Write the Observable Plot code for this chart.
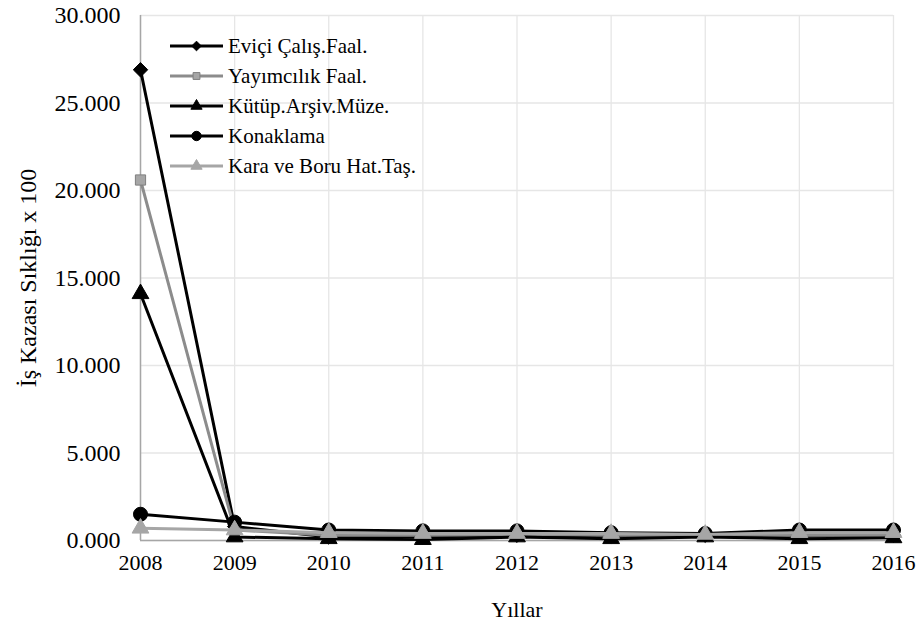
<!DOCTYPE html>
<html>
<head>
<meta charset="utf-8">
<script src="https://cdn.jsdelivr.net/npm/d3@7"></script>
<script src="https://cdn.jsdelivr.net/npm/@observablehq/plot@0.6"></script>
</head>
<body style="margin:0;background:#fff">
<div id="wrap" style="position:relative;width:921px;height:627px"><div id="legend" style="position:absolute;left:170px;top:31px;color:#000"></div></div>
<script>
const years = [2008, 2009, 2010, 2011, 2012, 2013, 2014, 2015, 2016];
const seriesNames = ["Eviçi Çalış.Faal.", "Yayımcılık Faal.", "Kütüp.Arşiv.Müze.", "Konaklama", "Kara ve Boru Hat.Taş."];
const evici = [26.9, 0.8, 0.2, 0.2, 0.3, 0.25, 0.3, 0.25, 0.3];
const yayimcilik = [20.6, 0.6, 0.3, 0.3, 0.35, 0.3, 0.3, 0.3, 0.3];
const kutup = [14.1, 0.2, 0.1, 0.05, 0.2, 0.1, 0.2, 0.1, 0.15];
const konaklama = [1.5, 1.05, 0.6, 0.55, 0.55, 0.45, 0.4, 0.6, 0.6];
const kara = [0.7, 0.6, 0.45, 0.4, 0.4, 0.4, 0.35, 0.45, 0.45];
const yTicks = [0, 5, 10, 15, 20, 25, 30];

const serif = '"Liberation Serif"';
const styles = [
  {line: "#000000", fill: "#000000", stroke: "#000000", symbol: "diamond2", r: 6.5},
  {line: "#8c8c8c", fill: "#a6a6a6", stroke: "#7f7f7f", symbol: "square2", r: 6.5},
  {line: "#000000", fill: "#000000", stroke: "#000000", symbol: "triangle2", r: 8},
  {line: "#000000", fill: "#000000", stroke: "#000000", symbol: "circle", r: 7},
  {line: "#a6a6a6", fill: "#a6a6a6", stroke: "#a6a6a6", symbol: "triangle2", r: 8}
];
const valuesList = [evici, yayimcilik, kutup, konaklama, kara];

const data = [];
seriesNames.forEach((s, i) => years.forEach((y, j) => data.push({series: s, idx: i, year: y, value: valuesList[i][j]})));

const marks = [
  Plot.gridX(years, {stroke: "#e6e6e6", strokeOpacity: 1, strokeWidth: 1.3}),
  Plot.gridY(yTicks, {stroke: "#e6e6e6", strokeOpacity: 1, strokeWidth: 1.3}),
  Plot.ruleX([2008], {stroke: "#a6a6a6", strokeWidth: 1.5}),
  Plot.ruleY([0], {stroke: "#a6a6a6", strokeWidth: 1.5})
];
seriesNames.forEach((s, i) => {
  const d = data.filter(r => r.idx === i);
  const st = styles[i];
  marks.push(Plot.line(d, {x: "year", y: "value", stroke: st.line, strokeWidth: 3}));
  marks.push(Plot.dot(d, {x: "year", y: "value", symbol: () => st.symbol, r: st.r, fill: st.fill, stroke: st.stroke, strokeWidth: 1}));
});
marks.push(Plot.axisX(years, {tickSize: 0, tickPadding: 14, tickFormat: d => String(d), fontSize: 22, fontFamily: "Liberation Serif", label: "Yıllar", labelAnchor: "center", labelOffset: 76, labelArrow: "none"}));
marks.push(Plot.axisY(yTicks, {tickSize: 0, tickPadding: 20, tickFormat: d3.format(".3f"), fontSize: 24, fontFamily: "Liberation Serif", label: "İş Kazası Sıklığı x 100", labelAnchor: "center", labelOffset: 122, labelArrow: "none"}));

const chart = Plot.plot({
  width: 921,
  height: 627,
  marginLeft: 140,
  marginRight: 28,
  marginTop: 15,
  marginBottom: 87,
  style: {fontSize: "22px", fontFamily: "Liberation Serif", color: "#000", background: "#fff"},
  x: {domain: [2008, 2016]},
  y: {domain: [0, 30]},
  symbol: {type: "identity"},
  marks
});
const wrap = document.getElementById("wrap");
wrap.insertBefore(chart, wrap.firstChild);
chart.querySelectorAll("text").forEach(el => el.setAttribute("font-family", "Liberation Serif"));

// legend
const legend = document.getElementById("legend");
seriesNames.forEach((s, i) => {
  const st = styles[i];
  const row = document.createElement("div");
  row.style.cssText = "display:flex;align-items:center;height:30px";
  const sym = d3.symbol().type({
    "diamond2": d3.symbolDiamond2, "square2": d3.symbolSquare2, "triangle2": d3.symbolTriangle2, "circle": d3.symbolCircle
  }[st.symbol]).size(st.r * st.r * Math.PI * 0.45)();
  row.innerHTML = `<svg width="53" height="14" viewBox="0 0 53 14"><line x1="0" x2="53" y1="7" y2="7" stroke="${st.line}" stroke-width="3"/><path d="${sym}" transform="translate(26.5,7)" fill="${st.fill}" stroke="${st.stroke}"/></svg>`;
  const span = document.createElement("span");
  span.textContent = s;
  span.style.marginLeft = "5px";
  span.style.whiteSpace = "nowrap";
  span.style.fontSize = "21px";
  span.style.fontFamily = serif;
  row.appendChild(span);
  legend.appendChild(row);
});
</script>
</body>
</html>
